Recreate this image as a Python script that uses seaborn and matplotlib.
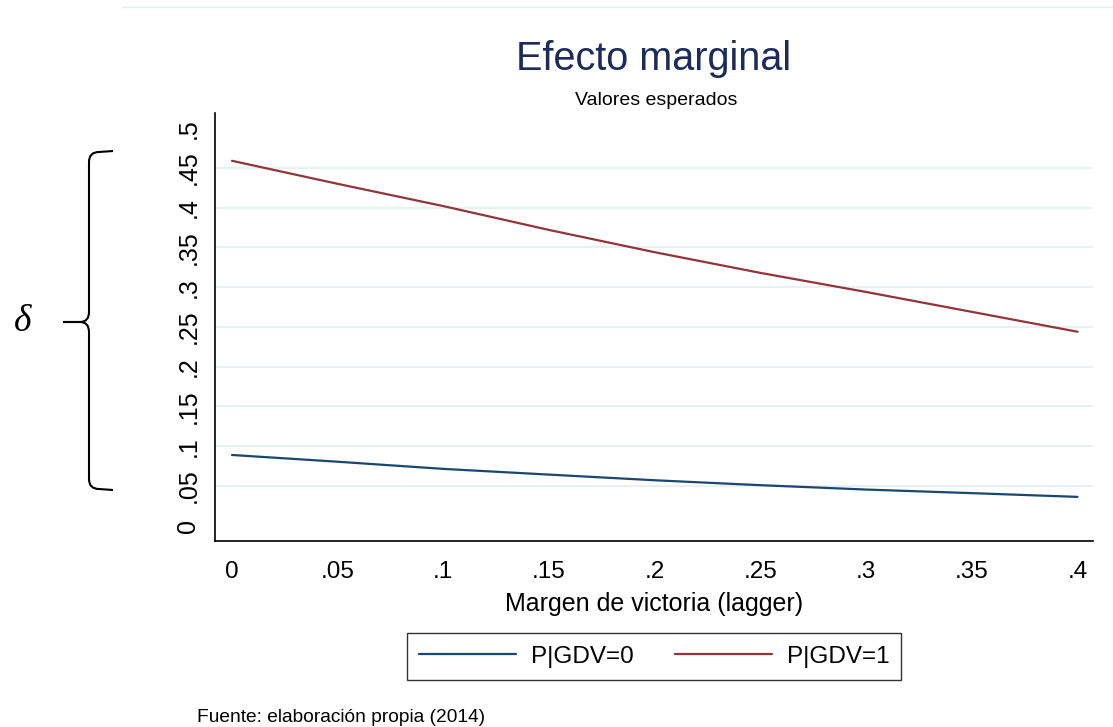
import pandas as pd
import seaborn as sns
import matplotlib
matplotlib.use('Agg')
from matplotlib import pyplot as plt
from matplotlib.path import Path
from matplotlib.patches import PathPatch
from matplotlib.lines import Line2D

# valores
margen = [0.0, 0.05, 0.1, 0.15, 0.2, 0.25, 0.3, 0.35, 0.4]
p_gdv0 = [0.089, 0.0805, 0.0715, 0.0643, 0.0572, 0.051, 0.0455, 0.041, 0.0363]
p_gdv1 = [0.459, 0.430, 0.402, 0.372, 0.344, 0.318, 0.294, 0.269, 0.244]
series_labels = ['P|GDV=0', 'P|GDV=1']
xtick_labels = ['0', '.05', '.1', '.15', '.2', '.25', '.3', '.35', '.4']
ytick_values = [0, 0.05, 0.1, 0.15, 0.2, 0.25, 0.3, 0.35, 0.4, 0.45, 0.5]
ytick_labels = ['0', '.05', '.1', '.15', '.2', '.25', '.3', '.35', '.4', '.45', '.5']

W, H = 1113, 727


def fx(x):
    return x / W


def fy(y):
    return 1 - y / H


def main():
    df = pd.concat([
        pd.DataFrame({'margen': margen, 'prob': p_gdv0, 'grupo': series_labels[0]}),
        pd.DataFrame({'margen': margen, 'prob': p_gdv1, 'grupo': series_labels[1]}),
    ])

    sns.set_style('white')
    plt.rcParams['font.family'] = ['Liberation Sans', 'DejaVu Sans']
    plt.rcParams['text.color'] = 'black'
    plt.rcParams['axes.labelcolor'] = 'black'
    plt.rcParams['xtick.color'] = 'black'
    plt.rcParams['ytick.color'] = 'black'

    fig = plt.figure(figsize=(W / 100, H / 100), dpi=100)
    ax = fig.add_axes([fx(215), fy(541), fx(1093) - fx(215), fy(113) - fy(541)])

    sns.lineplot(data=df, x='margen', y='prob', hue='grupo', hue_order=series_labels,
                 palette=['#1a476f', '#90353b'], linewidth=1.6, legend=False, ax=ax)
    data_lines = list(ax.lines[:2])

    # lineas de rejilla solo entre .05 y .45 (como Stata)
    for v in ytick_values[1:-1]:
        ax.axhline(v, color='#e9f0f2', linewidth=1.5, zorder=0)

    ax.set_xlim(-0.00804, 0.40733)
    ax.set_ylim(-0.0192, 0.5191)
    ax.set_xticks(margen)
    ax.set_xticklabels(xtick_labels, fontsize=17.5)
    ax.set_yticks(ytick_values)
    ax.set_yticklabels(ytick_labels, rotation=90, va='center', fontsize=18)
    ax.tick_params(axis='x', direction='out', length=6.5, width=1, color='black', pad=8)
    ax.tick_params(axis='y', direction='out', length=6.5, width=1, color='black', pad=4)
    ax.set_xlabel('Margen de victoria (lagger)', fontsize=18, labelpad=6.5)
    ax.set_ylabel('')

    for s in ['top', 'right']:
        ax.spines[s].set_visible(False)
    for s in ['left', 'bottom']:
        ax.spines[s].set_linewidth(1.2)
        ax.spines[s].set_color('black')

    fig.text(fx(654), fy(70), 'Efecto marginal', ha='center', va='baseline',
             fontsize=28.5, color='#1c2b5a')
    fig.text(fx(656), fy(105), 'Valores esperados', ha='center', va='baseline', fontsize=14)

    leg = fig.legend(data_lines, series_labels, loc='center',
                     bbox_to_anchor=(fx(654), fy(656.5)), ncol=2, frameon=True,
                     fancybox=False, edgecolor='black', fontsize=17.5,
                     handlelength=4.0, handletextpad=0.6, columnspacing=1.7, borderpad=0.5)
    leg.get_frame().set_linewidth(1.0)

    fig.text(fx(197), fy(722), 'Fuente: elaboración propia (2014)', ha='left',
             va='baseline', fontsize=13.8)

    # llave y delta a la izquierda
    top = [(63, 322), (80, 322), (89, 322), (89, 312), (89, 162), (89, 152), (99, 152), (113, 151)]
    bot = [(63, 322), (80, 322), (89, 322), (89, 332), (89, 479), (89, 489), (99, 489), (113, 490)]
    codes = [Path.MOVETO, Path.LINETO, Path.CURVE3, Path.CURVE3, Path.LINETO,
             Path.CURVE3, Path.CURVE3, Path.LINETO]
    for pts in (top, bot):
        verts = [(fx(x), fy(y)) for x, y in pts]
        fig.add_artist(PathPatch(Path(verts, codes), transform=fig.transFigure,
                                 fill=False, lw=1.5, ec='black'))
    fig.text(fx(23), fy(322), 'δ', fontsize=27, family=['Liberation Serif', 'DejaVu Serif'],
             style='italic', ha='center', va='center')

    fig.add_artist(Line2D([fx(122), 1], [fy(7), fy(7)], color='#e3eaec', lw=1,
                          transform=fig.transFigure))

    fig.savefig('out.png', dpi=100)


if __name__ == '__main__':
    main()
